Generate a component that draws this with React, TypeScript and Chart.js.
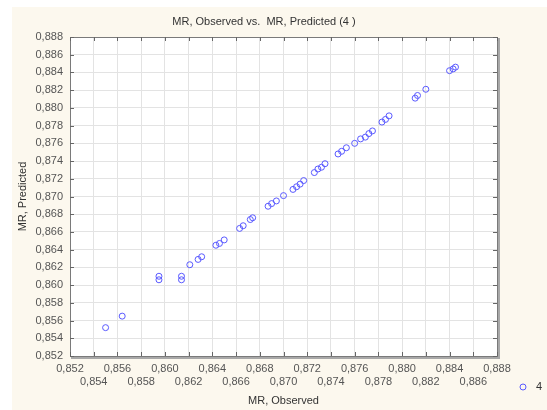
import { useEffect, useRef } from 'react';
import { Chart, registerables } from 'chart.js';

Chart.register(...registerables);

// ---- data ----
const observed = [
  0.8550, 0.8564, 0.8595, 0.8595, 0.8614, 0.8614, 0.8621, 0.8628, 0.8631,
  0.8643, 0.8646, 0.8650, 0.8663, 0.8666, 0.8672, 0.8674, 0.8687, 0.8690,
  0.8694, 0.8700, 0.8708, 0.8711, 0.8714, 0.8717, 0.8726, 0.8729, 0.8732,
  0.8735, 0.8746, 0.8749, 0.8753, 0.8760, 0.8765, 0.8769, 0.8772, 0.8775,
  0.8783, 0.8786, 0.8789, 0.8811, 0.8813, 0.8820, 0.8840, 0.8843, 0.8845,
];
const predicted = [
  0.8552, 0.8565, 0.8606, 0.8610, 0.8606, 0.8610, 0.8623, 0.8629, 0.8632,
  0.8645, 0.8647, 0.8651, 0.8664, 0.8667, 0.8674, 0.8676, 0.8689, 0.8692,
  0.8695, 0.8701, 0.8708, 0.8711, 0.8714, 0.8718, 0.8727, 0.8731, 0.8733,
  0.8737, 0.8748, 0.8751, 0.8755, 0.8760, 0.8765, 0.8767, 0.8771, 0.8774,
  0.8784, 0.8787, 0.8791, 0.8811, 0.8814, 0.8821, 0.8842, 0.8844, 0.8846,
];
const xTickValues = [
  0.852, 0.854, 0.856, 0.858, 0.860, 0.862, 0.864, 0.866, 0.868, 0.870,
  0.872, 0.874, 0.876, 0.878, 0.880, 0.882, 0.884, 0.886, 0.888,
];
const yTickValues = [
  0.852, 0.854, 0.856, 0.858, 0.860, 0.862, 0.864, 0.866, 0.868, 0.870,
  0.872, 0.874, 0.876, 0.878, 0.880, 0.882, 0.884, 0.886, 0.888,
];
const seriesLabel = '4';
const chartTitle = 'MR, Observed vs.  MR, Predicted (4 )';
const xTitle = 'MR, Observed';
const yTitle = 'MR, Predicted';

const FONT = 'Liberation Sans, Arial, sans-serif';
const POINT_COLOR = '#5a5aff';
const fmt = (v: number) => v.toFixed(3).replace('.', ',');

const framePlugin = {
  id: 'frame',
  beforeDraw(chart: any) {
    const { ctx, chartArea: a, width, height } = chart;
    ctx.save();
    ctx.fillStyle = '#ffffff';
    ctx.fillRect(0, 0, width, height);
    ctx.fillStyle = '#fcf8ee';
    ctx.fillRect(12, 7, width - 12, height - 7);
    ctx.fillStyle = '#ffffff';
    ctx.fillRect(a.left, a.top, a.right - a.left, a.bottom - a.top);
    // chart title
    ctx.fillStyle = '#333333';
    ctx.font = `11px ${FONT}`;
    ctx.textAlign = 'center';
    ctx.textBaseline = 'middle';
    ctx.fillText(chartTitle, 264, 22);
    ctx.restore();
  },
  beforeDatasetsDraw(chart: any) {
    const { ctx, chartArea: a } = chart;
    const xs = chart.scales.x;
    const ys = chart.scales.y;
    ctx.save();
    // shadow right/bottom
    ctx.strokeStyle = '#a8a8a8';
    ctx.lineWidth = 2;
    ctx.beginPath();
    ctx.moveTo(a.right + 2, a.top + 1);
    ctx.lineTo(a.right + 2, a.bottom + 2);
    ctx.lineTo(a.left + 1, a.bottom + 2);
    ctx.stroke();
    // border
    ctx.strokeStyle = '#7a7a7a';
    ctx.lineWidth = 1;
    ctx.strokeRect(a.left + 0.5, a.top + 0.5, a.right - a.left, a.bottom - a.top);
    // inward tick marks
    ctx.strokeStyle = '#666666';
    ctx.beginPath();
    xs.ticks.forEach((_t: any, i: number) => {
      const px = Math.round(xs.getPixelForTick(i)) + 0.5;
      ctx.moveTo(px, a.top);
      ctx.lineTo(px, a.top + 4);
      ctx.moveTo(px, a.bottom);
      ctx.lineTo(px, a.bottom - 4);
    });
    ys.ticks.forEach((_t: any, i: number) => {
      const py = Math.round(ys.getPixelForTick(i)) + 0.5;
      ctx.moveTo(a.left, py);
      ctx.lineTo(a.left + 4, py);
      ctx.moveTo(a.right, py);
      ctx.lineTo(a.right - 4, py);
    });
    ctx.stroke();
    ctx.restore();
  },
  afterDraw(chart: any) {
    const { ctx } = chart;
    const ds = chart.data.datasets[0];
    ctx.save();
    ctx.strokeStyle = ds.borderColor;
    ctx.lineWidth = 1;
    ctx.beginPath();
    ctx.arc(523, 387, 3, 0, Math.PI * 2);
    ctx.stroke();
    ctx.fillStyle = '#333333';
    ctx.font = `11px ${FONT}`;
    ctx.textAlign = 'left';
    ctx.textBaseline = 'middle';
    ctx.fillText(ds.label, 536, 387);
    ctx.restore();
  },
};

export default function App() {
  const ref = useRef<HTMLCanvasElement | null>(null);

  useEffect(() => {
    if (!ref.current) return;
    const tickFont = { family: FONT, size: 11 };
    const chart = new Chart(ref.current, {
      type: 'scatter',
      data: {
        datasets: [
          {
            label: seriesLabel,
            data: observed.map((x, i) => ({ x, y: predicted[i] })),
            pointStyle: 'circle',
            pointRadius: 3,
            borderWidth: 1,
            borderColor: POINT_COLOR,
            backgroundColor: 'rgba(0,0,0,0)',
          },
        ],
      },
      options: {
        animation: false,
        responsive: false,
        devicePixelRatio: 1,
        events: [],
        layout: { padding: { left: 0, right: 50, top: 37, bottom: 0 } },
        plugins: {
          legend: { display: false },
          tooltip: { enabled: false },
          title: { display: false },
        },
        scales: {
          x: {
            type: 'linear',
            position: 'bottom',
            min: 0.852,
            max: 0.888,
            afterBuildTicks: (s: any) => {
              s.ticks = xTickValues.map((v) => ({ value: v }));
            },
            afterFit: (s: any) => {
              s.height = 54;
            },
            grid: { color: '#e3e3e3', drawTicks: false, lineWidth: 1 },
            border: { display: false },
            ticks: {
              autoSkip: false,
              maxRotation: 0,
              minRotation: 0,
              padding: 6,
              color: '#555555',
              font: tickFont,
              callback: (v: any, i: number) =>
                i % 2 === 0 ? fmt(Number(v)) : ['', fmt(Number(v))],
            },
            title: {
              display: true,
              text: xTitle,
              color: '#333333',
              font: tickFont,
              padding: { top: 0, bottom: 2 },
            },
          },
          y: {
            type: 'linear',
            position: 'left',
            min: 0.852,
            max: 0.888,
            afterBuildTicks: (s: any) => {
              s.ticks = yTickValues.map((v) => ({ value: v }));
            },
            afterFit: (s: any) => {
              s.width = 70;
            },
            grid: { color: '#e3e3e3', drawTicks: false, lineWidth: 1 },
            border: { display: false },
            ticks: {
              autoSkip: false,
              padding: 7,
              color: '#555555',
              font: tickFont,
              callback: (v: any) => fmt(Number(v)),
            },
            title: {
              display: true,
              text: yTitle,
              color: '#333333',
              font: tickFont,
              padding: { top: 16, bottom: 0 },
            },
          },
        },
      },
      plugins: [framePlugin],
    } as any);
    return () => chart.destroy();
  }, []);

  return (
    <div style={{ position: 'absolute', left: 0, top: 0, width: 547, height: 410 }}>
      <canvas ref={ref} width={547} height={410} style={{ display: 'block' }} />
    </div>
  );
}
